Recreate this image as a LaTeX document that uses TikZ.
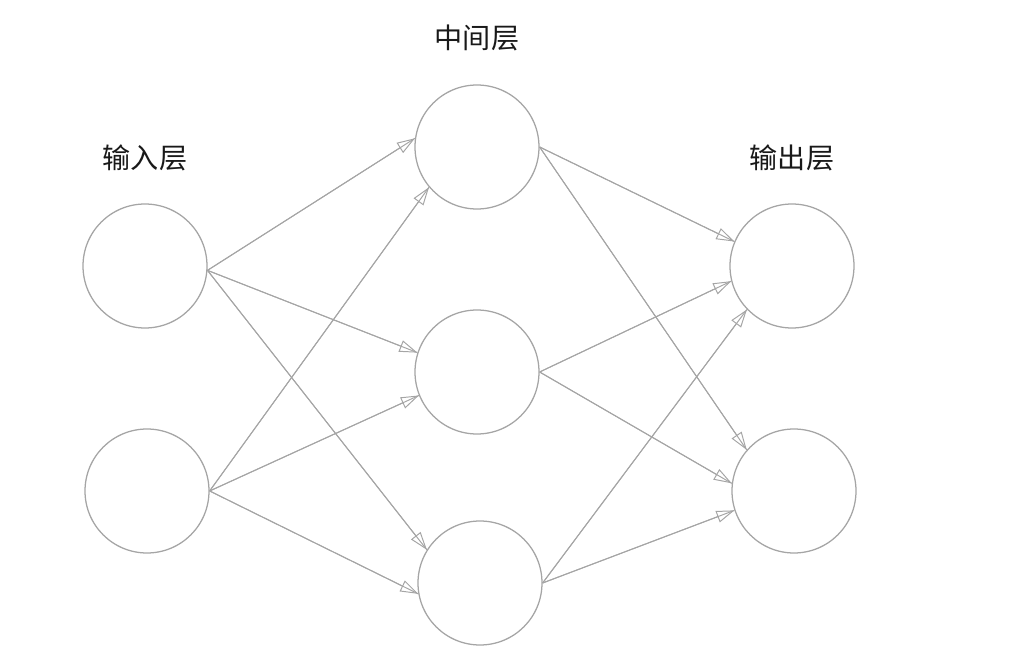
\documentclass[tikz,border=0pt]{standalone}
\usepackage{fontspec}
\newfontfamily\cjk{Noto Sans CJK SC}
\usetikzlibrary{arrows.meta}
\definecolor{edgegray}{RGB}{165,165,165}
\definecolor{labelink}{RGB}{25,25,25}

\begin{document}
\begin{tikzpicture}[
  neuron/.style={circle,draw=edgegray,line width=0.9pt,minimum size=3.1cm,inner sep=0pt},
  arr/.style={-{Triangle[open,length=4.5mm,width=3mm]},line width=0.7pt,color=edgegray,
              postaction={draw,-}},
  lbl/.style={font=\cjk\fontsize{20}{24}\selectfont,color=labelink}]
  \useasboundingbox (0,0) rectangle (25.825,16.475);
  % layers
  \node[neuron] (in1)  at (3.625,9.825) {};
  \node[neuron] (in2)  at (3.675,4.2)   {};
  \node[neuron] (mid1) at (11.925,12.8) {};
  \node[neuron] (mid2) at (11.925,7.175){};
  \node[neuron] (mid3) at (12.0,1.9)    {};
  \node[neuron] (out1) at (19.8,9.825)  {};
  \node[neuron] (out2) at (19.85,4.2)   {};
  % titles
  \node[lbl] (tin)  at (3.625,12.525)  {输入层};
  \node[lbl] (tmid) at (11.925,15.525) {中间层};
  \node[lbl] (tout) at (19.8,12.525)   {输出层};
  % input -> middle
  \draw[arr] (in1.356) -- (mid1.172);
  \draw[arr] (in1.356) -- (mid2.162);
  \draw[arr] (in1.356) -- (mid3.148);
  \draw[arr] (in2.east) -- (mid1.220);
  \draw[arr] (in2.east) -- (mid2.202);
  \draw[arr] (in2.east) -- (mid3.190);
  % middle -> output
  \draw[arr] (mid1.east) -- (out1.157);
  \draw[arr] (mid1.east) -- (out2.139);
  \draw[arr] (mid2.east) -- (out1.194);
  \draw[arr] (mid2.east) -- (out2.173);
  \draw[arr] (mid3.east) -- (out1.224);
  \draw[arr] (mid3.east) -- (out2.198);
\end{tikzpicture}
\end{document}
